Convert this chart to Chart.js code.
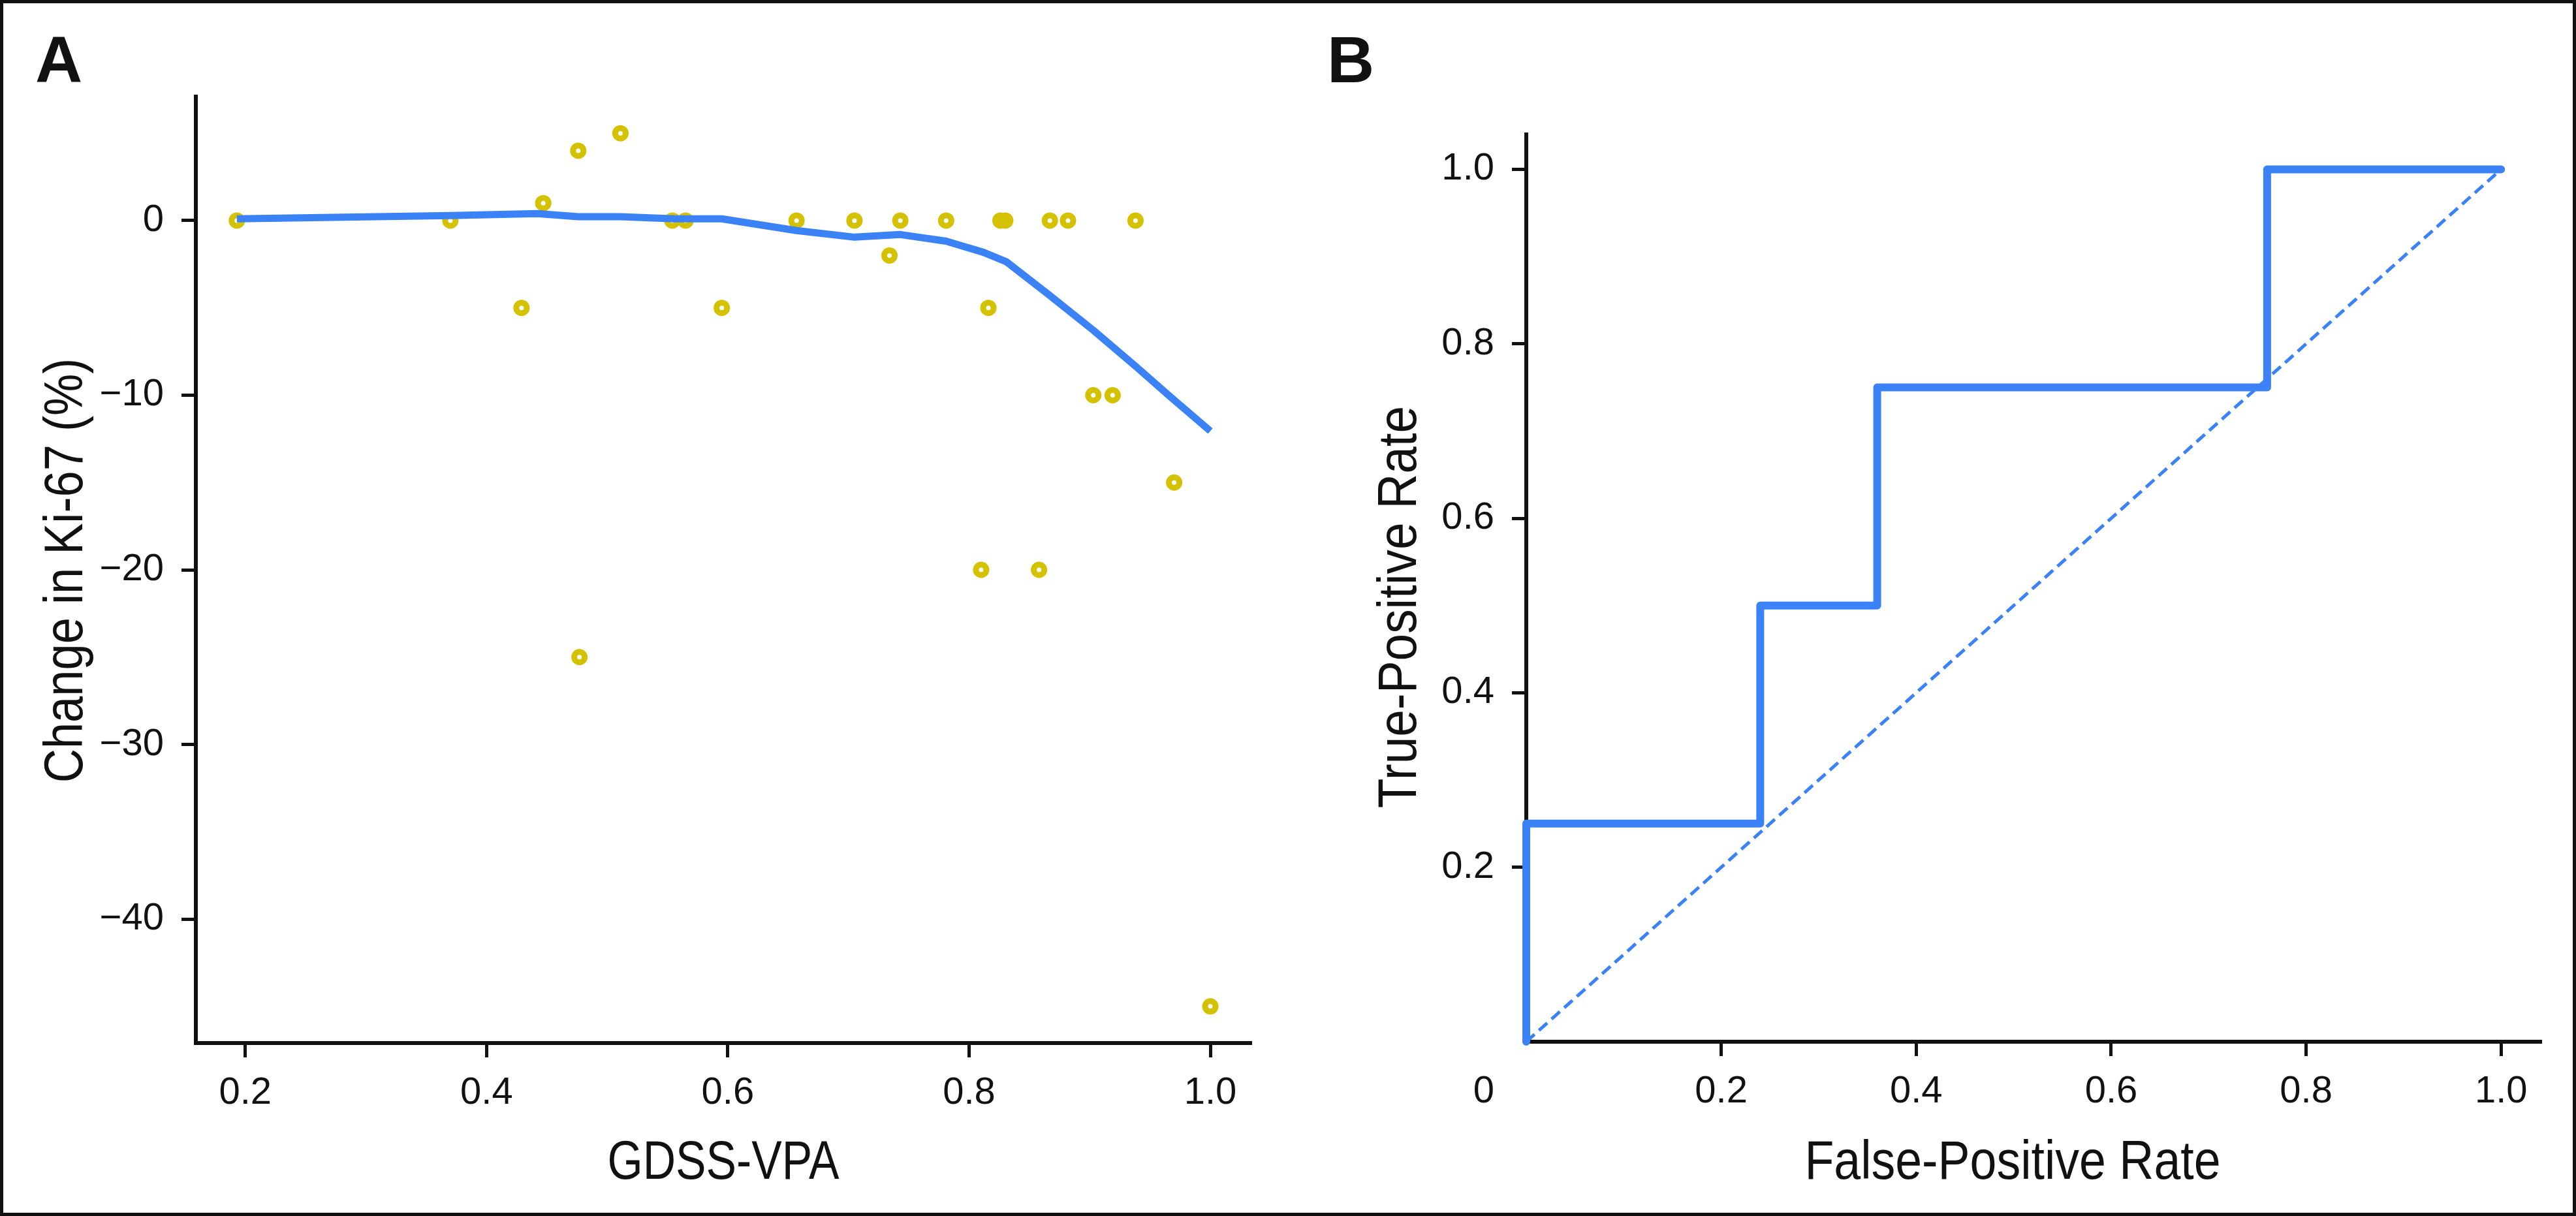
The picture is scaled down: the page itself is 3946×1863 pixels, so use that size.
<!DOCTYPE html>
<html>
<head>
<meta charset="utf-8">
<title>GDSS-VPA / ROC</title>
<script src="https://cdn.jsdelivr.net/npm/chart.js@4.4.1/dist/chart.umd.min.js"></script>
<style>
  html, body { margin: 0; padding: 0; background: #fff; }
  #pagina { position: relative; width: 3946px; height: 1863px; overflow: hidden; background: #fff; }
  #pagina canvas { position: absolute; top: 0; }
  #painel-a { left: 0; }
  #painel-b { left: 1973px; }
  #moldura { position: absolute; inset: 0; border: 5px solid #111; box-sizing: border-box; pointer-events: none; }
</style>
</head>
<body>
<div id="pagina">
  <canvas id="painel-a" width="1973" height="1863"></canvas>
  <canvas id="painel-b" width="1973" height="1863"></canvas>
  <div id="moldura"></div>
</div>
<script>
// ─── Panel A: GDSS-VPA x change in Ki-67 ─────────────────────────────────────
const gdssVpa    = [0.193, 0.370, 0.429, 0.447, 0.476, 0.477, 0.511, 0.554, 0.565, 0.595,
                    0.657, 0.705, 0.734, 0.743, 0.781, 0.810, 0.816, 0.826, 0.830, 0.858,
                    0.867, 0.882, 0.903, 0.919, 0.938, 0.970, 1.000];
const ki67Change = [0, 0, -5, 1, 4, -25, 5, 0, 0, -5,
                    0, 0, -2, 0, 0, -20, -5, 0, 0, -20,
                    0, 0, -10, -10, 0, -15, -45];

// smoothed (loess) curve
const loessX = [0.193, 0.370, 0.442, 0.476, 0.511, 0.556, 0.595, 0.657, 0.705, 0.743,
                0.781, 0.812, 0.831, 0.866, 0.903, 0.939, 0.967, 1.000];
const loessY = [0.1, 0.29, 0.4, 0.22, 0.22, 0.1, 0.1, -0.57, -0.95, -0.8,
                -1.18, -1.82, -2.36, -4.24, -6.28, -8.4, -10.1, -12.05];

const xTicksA = [0.2, 0.4, 0.6, 0.8, 1.0];
const yTicksA = [0, -10, -20, -30, -40];

// ─── Panel B: ROC ─────────────────────────────────────────────────────────────
const rocFpr    = [0, 0, 0.24, 0.24, 0.36, 0.36, 0.76, 0.76, 1.0];
const rocTpr    = [0, 0.25, 0.25, 0.5, 0.5, 0.75, 0.75, 1.0, 1.0];
const chanceFpr = [0, 1];
const chanceTpr = [0, 1];

const xTicksB = [0.2, 0.4, 0.6, 0.8, 1.0];
const yTicksB = [0.2, 0.4, 0.6, 0.8, 1.0];

// ─── Estilo comum ─────────────────────────────────────────────────────────────
const BLUE  = '#3b82f6';
const GOLD  = '#d4c100';
const INK   = '#111';
const SANS  = "'Liberation Sans', Arial, Helvetica, sans-serif";
const TICK_SIZE  = 58;
const TITLE_SIZE = 84;
const TICK_LEN   = 22;
const X_PAD      = 20;

const pares = (xs, ys) => xs.map((x, i) => ({ x, y: ys[i] }));
const umaCasa = v => v.toFixed(1);
const comMenos = v => v < 0 ? '\u2212' + Math.abs(v) : String(v);

function eixo(min, max, ticks, fmt, tamanho, horizontal) {
  return {
    type: 'linear', min, max,
    afterBuildTicks: s => { s.ticks = ticks.map(value => ({ value })); },
    afterFit: s => { if (horizontal) s.height = tamanho; else s.width = tamanho; },
    border: { display: true, color: INK, width: 6 },
    grid: { display: true, drawOnChartArea: false, drawTicks: true, tickLength: TICK_LEN, lineWidth: 5, color: INK },
    ticks: {
      color: INK, font: { family: SANS, size: TICK_SIZE },
      padding: horizontal ? X_PAD : 27,
      autoSkip: false, maxRotation: 0,
      callback: v => fmt(v),
    },
  };
}

// condensed title text (the original uses a narrow Helvetica)
function tituloEstreito(ctx, texto, x, y, aperto, girar) {
  ctx.save();
  ctx.translate(x, y);
  if (girar) ctx.rotate(-Math.PI / 2);
  ctx.scale(aperto, 1);
  ctx.font = `${TITLE_SIZE}px ${SANS}`;
  ctx.textAlign = 'center';
  ctx.textBaseline = 'alphabetic';
  ctx.fillText(texto, 0, 0);
  ctx.restore();
}

// letter, rotated y title, x title (and origin "0" in B)
function textos(cfg) {
  return {
    id: 'textos',
    afterDraw(chart) {
      const ctx = chart.ctx;
      const area = chart.chartArea;
      ctx.save();
      ctx.fillStyle = INK;

      ctx.font = `bold 100px ${SANS}`;
      ctx.textAlign = 'left';
      ctx.textBaseline = 'alphabetic';
      ctx.fillText(cfg.letra, cfg.letraX, 126);

      tituloEstreito(ctx, cfg.tituloX, cfg.tituloXx ?? (area.left + area.right) / 2, 1806, cfg.apertoX, false);
      tituloEstreito(ctx, cfg.tituloY, cfg.tituloYx, cfg.tituloYy, cfg.apertoY, true);

      if (cfg.origem) {
        ctx.font = `${TICK_SIZE}px ${SANS}`;
        ctx.textAlign = 'right';
        ctx.textBaseline = 'middle';
        const yLinha = area.bottom + TICK_LEN + X_PAD + TICK_SIZE * 1.2 / 2;
        ctx.fillText(cfg.origem, area.left - TICK_LEN - 27, yLinha);
      }
      ctx.restore();
    },
  };
}

const base = {
  responsive: false,
  devicePixelRatio: 1,
  animation: false,
  events: [],
  plugins: { legend: { display: false }, tooltip: { enabled: false } },
};

// ─── Gráfico A ────────────────────────────────────────────────────────────────
new Chart(document.getElementById('painel-a'), {
  type: 'scatter',
  data: {
    datasets: [
      {
        type: 'line',
        label: 'Loess',
        data: pares(loessX, loessY),
        borderColor: BLUE,
        borderWidth: 11,
        borderCapStyle: 'butt',
        borderJoinStyle: 'round',
        pointRadius: 0,
        tension: 0,
        fill: false,
        clip: false,
        order: 0,
      },
      {
        label: 'Patients',
        data: pares(gdssVpa, ki67Change),
        pointStyle: 'circle',
        pointRadius: 8,
        pointBorderWidth: 9,
        pointBorderColor: GOLD,
        pointBackgroundColor: 'rgba(0,0,0,0)',
        showLine: false,
        clip: false,
        order: 1,
      },
    ],
  },
  options: {
    ...base,
    layout: { padding: { left: 100, right: 58, top: 148, bottom: 65 } },
    scales: {
      x: eixo(0.159, 1.033, xTicksA, umaCasa, 200, true),
      y: eixo(-47.1, 7.1, yTicksA, comMenos, 200, false),
    },
  },
  plugins: [textos({
    letra: 'A', letraX: 54,
    tituloX: 'GDSS-VPA', tituloXx: 1108, apertoX: 0.83,
    tituloY: 'Change in Ki-67 (%)', tituloYx: 126, tituloYy: 874, apertoY: 0.86,
  })],
});

// ─── Gráfico B ────────────────────────────────────────────────────────────────
new Chart(document.getElementById('painel-b'), {
  type: 'scatter',
  data: {
    datasets: [
      {
        type: 'line',
        label: 'ROC',
        data: pares(rocFpr, rocTpr),
        borderColor: BLUE,
        borderWidth: 12,
        borderCapStyle: 'round',
        borderJoinStyle: 'round',
        pointRadius: 0,
        tension: 0,
        fill: false,
        clip: false,
        order: 0,
      },
      {
        type: 'line',
        label: 'Chance',
        data: pares(chanceFpr, chanceTpr),
        borderColor: BLUE,
        borderWidth: 5,
        borderDash: [17, 9],
        pointRadius: 0,
        tension: 0,
        fill: false,
        clip: false,
        order: 1,
      },
    ],
  },
  options: {
    ...base,
    layout: { padding: { left: 165, right: 55, top: 206, bottom: 67 } },
    scales: {
      x: eixo(0, 1.04, xTicksB, umaCasa, 200, true),
      y: eixo(0, 1.04, yTicksB, umaCasa, 200, false),
    },
  },
  plugins: [textos({
    letra: 'B', letraX: 60,
    tituloX: 'False-Positive Rate', tituloXx: 1110, apertoX: 0.875,
    tituloY: 'True-Positive Rate', tituloYx: 196, tituloYy: 930, apertoY: 0.89,
    origem: '0',
  })],
});
</script>
</body>
</html>
